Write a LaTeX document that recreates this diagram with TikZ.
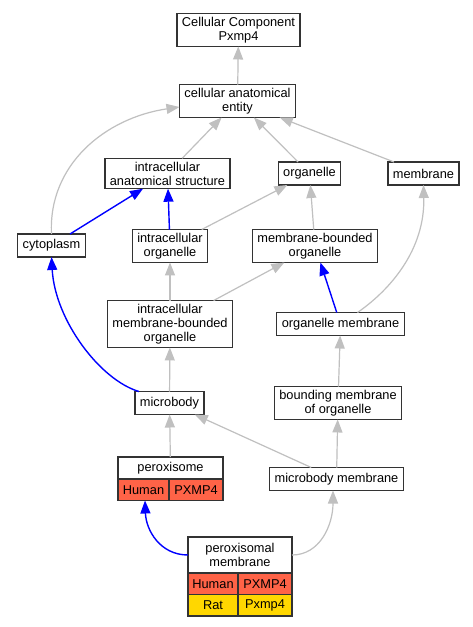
\documentclass[tikz,border=0pt]{standalone}
\usepackage{fontspec}
\setmainfont{Liberation Sans}
\usetikzlibrary{arrows.meta,positioning}
\definecolor{edgegray}{HTML}{C0C0C0}
\definecolor{human}{HTML}{FF6347}
\definecolor{rat}{HTML}{FFD700}
\tikzset{
    term/.style={draw=black!80, line width=1.3pt, fill=white, align=center, outer sep=0pt,
        inner xsep=5pt, inner ysep=3.5pt, minimum height=23pt, font=\fontsize{12.8}{14}\selectfont},
    cell/.style={term, anchor=north west, inner xsep=3pt, inner ysep=0pt, minimum height=21.5pt},
    isa/.style={draw=edgegray, line width=1.2pt, -{Triangle[length=13pt,width=10pt]}},
    partof/.style={draw=blue, line width=1.4pt, -{Triangle[length=13pt,width=10pt]}},
}
\begin{document}
\begin{tikzpicture}[x=1pt,y=-1pt]
        \useasboundingbox[fill=white] (0,0) rectangle (473,627);
        % terms, top to bottom
        \node[term] (cc) at (238.5,30) {Cellular Component\\Pxmp4};
        \node[term] (cae) at (237.5,101) {cellular anatomical\\entity};
        \node[term] (ias) at (167.5,173.5) {intracellular\\anatomical structure};
        \node[term] (organelle) at (309.5,173.5) {organelle};
        \node[term] (membrane) at (423.5,173.5) {membrane};
        \node[term] (cyto) at (51.5,245.5) {cytoplasm};
        \node[term] (io) at (170,246) {intracellular\\organelle};
        \node[term] (mbo) at (315,246) {membrane-bounded\\organelle};
        \node[term] (imbo) at (170,324) {intracellular\\membrane-bounded\\organelle};
        \node[term] (om) at (340.5,324) {organelle membrane};
        \node[term] (mb) at (169.5,403) {microbody};
        \node[term] (bmo) at (338,403) {bounding membrane\\of organelle};
        \node[term] (mm) at (336.5,479) {microbody membrane};
        % annotated terms as little tables
        \node[term, minimum width=105pt, minimum height=22pt] (pero) at (170.5,468) {peroxisome};
        \node[cell, fill=human, minimum width=51pt] (peroH) at (pero.south west) {Human};
        \node[cell, fill=human, minimum width=54pt] (peroP) at (peroH.north east) {PXMP4};
        \node[term, minimum width=104pt, minimum height=36pt] (pm) at (240,555) {peroxisomal\\membrane};
        \node[cell, fill=human, minimum width=50pt] (pmH) at (pm.south west) {Human};
        \node[cell, fill=human, minimum width=54pt] (pmP) at (pmH.north east) {PXMP4};
        \node[cell, fill=rat, minimum width=50pt] (pmR) at (pmH.south west) {Rat};
        \node[cell, fill=rat, minimum width=54pt] (pmM) at (pmR.north east) {Pxmp4};
        % is_a edges
        \foreach \from/\to in {cae/cc, ias/cae, organelle/cae, membrane/cae, io/organelle, mbo/organelle,
            imbo/io, imbo/mbo, mb/imbo, bmo/om, pero/mb, mm/mb, mm/bmo}{
            \draw[isa] (\from) -- (\to);
        }
        \draw[isa] (cyto.north) .. controls (48,165) and (105,118) .. ([yshift=-6pt]cae.west);
        \draw[isa] ([xshift=17pt]om.north) .. controls (390,290) and (425,250) .. (membrane.south);
        \draw[isa] (pm.east) .. controls (320,555) and (333,525) .. ([xshift=-3.5pt]mm.south);
        % part_of edges
        \foreach \from/\to in {cyto/ias, io/ias, om/mbo}{
            \draw[partof] (\from) -- (\to);
        }
        \draw[partof] ([xshift=4pt]mb.north west) .. controls (100,380) and (55,320) .. (cyto.south);
        \draw[partof] (pm.west) .. controls (160,555) and (146,530) .. ([xshift=1.5pt]peroH.south);
    \end{tikzpicture}
\end{document}
